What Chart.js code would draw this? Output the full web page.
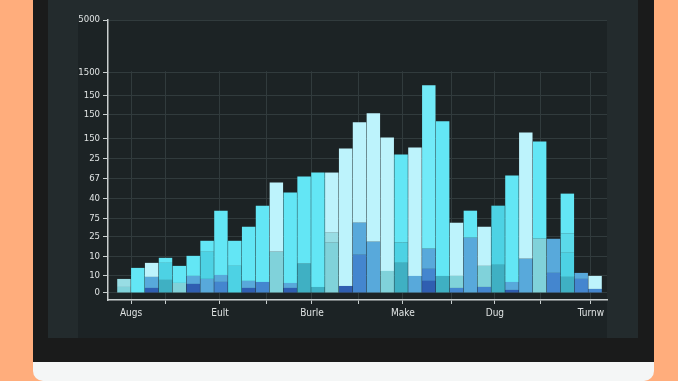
<!DOCTYPE html>
<html>
<head>
<meta charset="utf-8">
<script src="https://cdn.jsdelivr.net/npm/chart.js@4.4.1/dist/chart.umd.min.js"></script>
<style>
  html, body { margin: 0; padding: 0; }
  body { width: 678px; height: 381px; background: #ffad7c; position: relative; overflow: hidden; }
  .frame { position: absolute; left: 33px; top: 0; width: 621px; height: 362px; background: #1a1b1b; }
  .screen { position: absolute; left: 48px; top: 0; width: 590px; height: 338px; background: #232b2d; }
  .plotBg { position: absolute; left: 78px; top: 20px; width: 529px; height: 318px; background: #1c2325; }
  .base { position: absolute; left: 33px; top: 362px; width: 621px; height: 19px; background: #f4f6f6; border-radius: 0 0 10px 10px; }
  #barChart { position: absolute; left: 0; top: 0; }
</style>
</head>
<body>
<div class="frame"></div>
<div class="screen"></div>
<div class="plotBg"></div>
<div class="base"></div>
<canvas id="barChart" width="678" height="381"></canvas>
<script>
// paleta de colores de las barras
const P = '#bdf3fc', LL = '#98dde4', C = '#63e6f5', CH = '#72eaf8', M = '#4dd2e4', M2 = '#5bdaea';
const T = '#3fb0c3', L = '#80d2da', S = '#58a9db', B = '#4486cf', D = '#2f5eb1';

// ticks del eje y (posicion en unidades del eje y su texto)
const yTickPositions = [0, 0.85, 1.8, 2.8, 3.7, 4.7, 5.7, 6.7, 7.7, 8.9, 9.85, 11, 13.6];
const yTickLabels = ['0', '10', '10', '25', '75', '40', '67', '25', '150', '150', '150', '1500', '5000'];

// ticks del eje x
const xTickPositions = [0.51, 3.03, 6.93, 10.32, 13.57, 16.96, 20.13, 23.67, 26.77, 30.09, 33.7];
const xTickLabels = ['Augs', '', 'Eult', '', 'Burle', '', 'Make', '', 'Dug', '', 'Turnw'];

// capas apiladas, de abajo hacia arriba (una barra por posicion)
const layer1 = [0.3, 1.25, 0.25, 0.65, 0.5, 0.45, 0.7, 0.55, 1.35, 0.25, 0.55, 2.05, 0.25, 1.45, 0.3, 2.5, 0.35, 1.9, 2.55, 1.1, 1.5, 0.85, 0.6, 0.85, 0.25, 2.75, 0.3, 1.4, 0.15, 1.7, 2.7, 1.0, 0.8, 0.7, 0.2];
const layer2 = [0.4, 0, 0.55, 0.85, 0.85, 0.4, 1.35, 0.35, 1.25, 0.35, 3.8, 3.45, 0.25, 4.35, 5.7, 0.5, 6.85, 1.6, 6.4, 6.65, 1.0, 6.4, 0.6, 7.7, 0.6, 1.35, 1.05, 2.95, 0.4, 6.3, 4.85, 1.7, 1.2, 0.3, 0.65];
const layer3 = [0, 0, 0.7, 0.25, 0, 1.0, 0.55, 3.2, 0, 2.7, 0, 0, 4.5, 0, 0, 3.0, 0, 5.0, 0, 0, 4.4, 0, 1.0, 0, 2.65, 0, 1.95, 0, 5.3, 0, 0, 0, 0.95, 0, 0];
const layer4 = [0, 0, 0, 0, 0, 0, 0, 0, 0, 0, 0, 0, 0, 0, 0, 0, 0, 0, 0, 0, 0, 0, 8.15, 0, 0, 0, 0, 0, 0, 0, 0, 0, 2.0, 0, 0];

const colors1 = [L, C, D, T, L, D, S, B, M, D, B, L, D, T, T, L, D, B, S, L, T, S, D, T, B, S, B, T, D, S, L, B, T, B, B];
const colors2 = [LL, C, S, M, C, S, M, S, C, S, C, P, S, C, C, LL, P, S, P, P, M, P, B, C, L, C, L, M, S, P, C, S, M, S, P];
const colors3 = [P, P, P, C, P, C, C, C, P, C, P, P, C, P, P, P, P, P, P, P, C, P, S, P, P, P, P, P, C, P, P, P, M2, P, P];
const colors4 = [C, C, C, C, C, C, C, C, C, C, C, C, C, C, C, C, C, C, C, C, C, C, CH, C, C, C, C, C, C, C, C, C, C, C, C];

const toPoints = (values) => values.map((v, i) => ({ x: i, y: v }));

const makeLayer = (values, colors) => ({
    data: toPoints(values),
    backgroundColor: colors,
    borderWidth: 0,
    barPercentage: 0.97,
    categoryPercentage: 1,
});

// tapa las lineas verticales por encima de 1500
const topBand = {
    id: 'topBand',
    beforeDatasetsDraw(chart) {
        const { ctx, chartArea, scales } = chart;
        const yEnd = scales.y.getPixelForValue(11) - 1;
        ctx.save();
        ctx.fillStyle = '#1c2325';
        ctx.fillRect(chartArea.left + 2, chartArea.top + 1, chartArea.right - chartArea.left - 2, yEnd - chartArea.top - 1);
        ctx.restore();
    }
};

const axisColor = '#c9cfcf';
const gridColor = '#313b3d';
const fontFamily = '"DejaVu Sans Condensed", Roboto, sans-serif';

const ctx = document.getElementById('barChart').getContext('2d');
new Chart(ctx, {
    type: 'bar',
    data: {
        datasets: [
            makeLayer(layer1, colors1),
            makeLayer(layer2, colors2),
            makeLayer(layer3, colors3),
            makeLayer(layer4, colors4),
        ],
    },
    plugins: [topBand],
    options: {
        responsive: false,
        animation: false,
        layout: { padding: { left: 68, top: 20, right: 71, bottom: 51 } },
        plugins: {
            legend: { display: false },
            tooltip: { enabled: false },
        },
        scales: {
            x: {
                type: 'linear',
                stacked: true,
                offset: false,
                min: -1.15,
                max: 34.86,
                afterBuildTicks: (scale) => {
                    scale.ticks = xTickPositions.map((v) => ({ value: v }));
                },
                afterFit: (scale) => { scale.height = 30; },
                ticks: {
                    autoSkip: false,
                    maxRotation: 0,
                    padding: 3,
                    color: '#dfe3e3',
                    font: { family: fontFamily, size: 10 },
                    callback: (value, index) => xTickLabels[index],
                },
                grid: { color: gridColor, tickColor: axisColor, tickLength: 4, offset: false },
                border: { color: axisColor, width: 1.5 },
            },
            y: {
                stacked: true,
                min: -0.35,
                max: 13.6,
                afterBuildTicks: (scale) => {
                    scale.ticks = yTickPositions.map((v) => ({ value: v }));
                },
                afterFit: (scale) => { scale.width = 40; },
                ticks: {
                    autoSkip: false,
                    padding: 3,
                    color: '#dfe3e3',
                    font: { family: fontFamily, size: 9.5 },
                    callback: (value, index) => yTickLabels[index],
                },
                grid: { color: gridColor, tickColor: axisColor, tickLength: 5 },
                border: { color: axisColor, width: 1.5 },
            },
        },
    },
});
</script>
</body>
</html>
